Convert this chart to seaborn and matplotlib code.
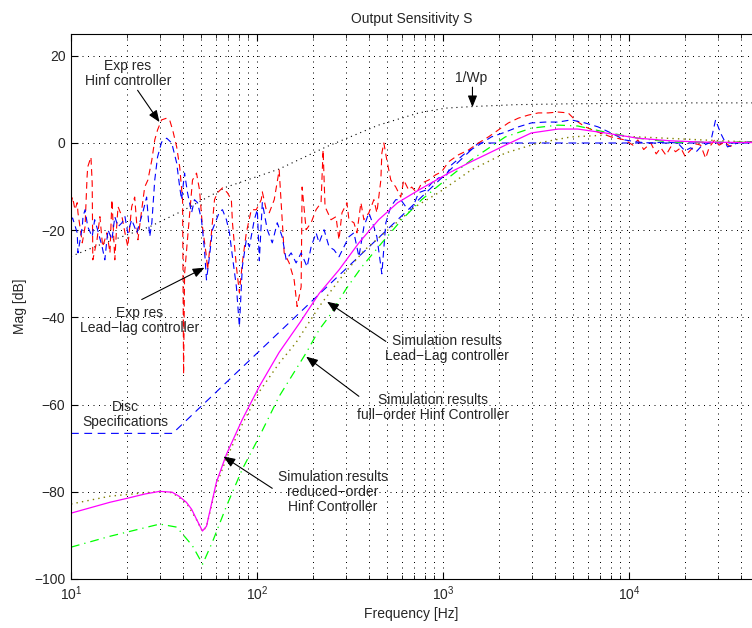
import matplotlib
matplotlib.use("Agg")
import matplotlib.pyplot as plt
import pandas as pd
import seaborn as sns

# Exp res, Hinf controller (red dashed)
hinf_exp_freq = [10.0, 10.2, 10.5, 10.8, 10.9, 11.5, 11.9, 12.2, 12.3, 12.8,
                 13.0, 13.1, 13.8, 14.3, 14.8, 15.6, 16.2, 16.6, 17.2, 17.6,
                 17.9, 18.8, 19.5, 20.2, 21.2, 22.0, 22.9, 24.0, 24.9, 25.9,
                 27.2, 28.2, 29.2, 30.7, 32.7, 33.9, 35.2, 37.0, 38.4, 39.8,
                 40.3, 40.8, 45.0, 47.3, 49.1, 50.9, 53.5, 54.2, 56.9, 59.1,
                 61.3, 65.2, 69.3, 72.8, 73.8, 77.5, 80.4, 83.4, 87.6, 93.2,
                 99.1, 105.4, 106.8, 112.1, 116.4, 123.8, 131.6, 134.9, 140.0, 148.9,
                 158.4, 164.3, 172.7, 174.8, 183.7, 195.4, 207.8, 221.0, 226.6, 232.2,
                 250.0, 265.9, 275.9, 286.3, 304.5, 312.1, 332.0, 344.5, 362.0, 375.6,
                 399.5, 425.0, 441.0, 463.3, 469.1, 480.8, 498.8, 524.0, 557.3, 592.7,
                 615.0, 654.1, 678.7, 722.0, 768.0, 837.3, 912.8, 982.9, 1072, 1212,
                 1371, 1551, 1755, 1986, 2245, 2541, 2874, 3251, 3677, 4161,
                 4708, 5131, 5805, 6814, 8000, 9509, 10500, 11160, 12000, 13100,
                 14000, 14830, 15800, 16760, 17800, 18970, 20000, 21460, 23000, 24280,
                 25820, 27000, 28850, 30500, 32640, 35000, 38310, 43350, 46000]
hinf_exp_db = [-14.0, -12.4, -15.3, -13.7, -16.0, -22.9, -19.2, -7.8, -5.5, -3.2,
               -9.2, -26.8, -22.2, -16.9, -23.8, -20.6, -25.2, -13.0, -26.8, -19.2,
               -14.6, -16.9, -20.6, -23.8, -14.6, -12.4, -22.2, -15.3, -10.1, -8.5,
               -3.9, 0.7, 3.0, 5.3, 5.7, 5.3, 3.0, -0.9, -5.5, -13.0,
               -53.0, -30.0, -8.5, -6.9, -10.8, -19.2, -26.1, -29.1, -20.6, -13.0,
               -11.4, -10.3, -11.4, -13.0, -18.3, -28.4, -34.3, -27.5, -20.6, -15.3,
               -15.3, -13.0, -11.2, -15.3, -16.0, -13.0, -6.2, -13.7, -25.2, -27.5,
               -31.4, -37.5, -33.0, -10.1, -19.9, -18.3, -15.3, -13.7, -1.6, -14.6,
               -17.6, -16.9, -22.2, -16.0, -13.7, -17.6, -18.3, -20.6, -13.7, -17.6,
               -16.0, -13.0, -16.0, -8.5, -2.3, 0.0, -3.9, -8.5, -10.1, -12.4,
               -8.5, -10.8, -10.1, -11.4, -9.2, -8.5, -7.3, -6.6, -4.3, -2.7,
               -1.6, 0.0, 1.4, 3.0, 4.6, 5.7, 6.4, 6.9, 6.9, 7.1,
               6.9, 5.3, 3.7, 2.5, 1.4, 0.7, -0.5, 0.7, -1.5, 0.0,
               -2.5, -1.1, -2.8, -0.9, -2.0, -1.1, -3.0, -1.6, -0.2, -0.5,
               -3.5, -1.0, 0.7, -0.5, 0.2, -0.8, 0.2, 0.2, 0.2]

# Exp res, Lead-lag controller (blue dashed)
leadlag_exp_freq = [10.0, 10.2, 10.8, 10.9, 11.5, 11.6, 11.9, 12.3, 13.0, 13.4,
                    13.9, 14.7, 15.2, 15.8, 16.6, 17.2, 17.9, 18.8, 19.5, 20.2,
                    21.2, 22.6, 23.4, 24.3, 25.5, 26.5, 27.2, 28.2, 29.2, 30.7,
                    32.7, 34.8, 37.0, 38.4, 39.3, 40.8, 42.3, 44.5, 46.1, 47.9,
                    50.3, 52.2, 53.5, 55.5, 57.6, 60.5, 62.8, 65.2, 68.5, 71.1,
                    73.8, 77.5, 80.4, 83.4, 87.6, 91.0, 96.7, 100.4, 102.9, 106.8,
                    113.6, 120.8, 128.5, 136.6, 143.5, 152.6, 162.3, 172.7, 186.0, 195.4,
                    207.8, 215.7, 229.4, 243.9, 259.4, 275.9, 293.5, 312.1, 332.0, 353.1,
                    375.6, 399.5, 425.0, 441.0, 469.1, 492.7, 524.0, 557.3, 592.7, 630.4,
                    678.7, 740.0, 806.8, 868.8, 947.1, 1033, 1112, 1321, 1551, 1821,
                    2164, 2541, 2982, 3544, 4161, 4885, 5805, 6814, 8000, 9509,
                    11160, 13100, 15570, 18280, 20000, 21460, 23000, 24280, 27460, 29210,
                    31060, 33870, 38310, 43350, 46000]
leadlag_exp_db = [-17.6, -17.2, -20.6, -25.2, -19.2, -16.9, -15.3, -19.2, -21.5, -17.6,
                  -19.9, -23.8, -26.8, -19.9, -22.2, -16.9, -19.2, -18.3, -16.9, -20.6,
                  -17.6, -20.6, -18.3, -16.0, -12.4, -21.5, -18.3, -8.5, -3.2, 0.2,
                  1.1, 0.0, -4.6, -10.1, -13.0, -6.9, -11.4, -16.0, -13.0, -13.7,
                  -17.6, -24.5, -31.4, -26.1, -19.9, -17.6, -15.8, -15.3, -17.6, -20.6,
                  -26.1, -33.0, -42.1, -28.4, -22.2, -23.8, -17.6, -15.3, -27.0, -13.7,
                  -19.9, -22.9, -18.3, -21.5, -26.8, -25.2, -27.5, -25.2, -28.4, -23.8,
                  -20.6, -22.9, -19.9, -23.8, -24.5, -26.1, -23.8, -21.5, -20.6, -26.1,
                  -19.2, -16.0, -19.2, -21.5, -30.0, -18.3, -14.6, -13.0, -13.0, -14.6,
                  -15.3, -11.4, -10.8, -9.2, -8.0, -7.8, -5.0, -2.3, -0.5, 1.4,
                  2.5, 3.7, 4.6, 4.8, 4.8, 5.3, 4.6, 3.7, 2.3, 0.7,
                  0.2, 0.0, 0.2, 0.0, -1.8, -1.1, -2.0, -0.9, 0.2, 5.3,
                  2.3, -0.9, 0.0, 0.2, 0.2]

# Disc specifications (blue dashed)
disc_freq = [10, 35.2, 1550, 46000]
disc_db = [-66.6, -66.6, 0.0, 0.0]

# 1/Wp (black dotted)
wp_freq = [10, 15, 26.5, 40, 68.5, 131, 235, 450, 740, 1033, 1500, 2500, 5000, 10000, 20000, 46000]
wp_db = [-26.0, -23.0, -19.2, -15.5, -10.1, -6.0, -0.9, 4.1, 6.9, 8.0, 8.4, 8.8, 9.0, 9.1, 9.2, 9.2]

# Simulation results, Lead-Lag controller (olive dotted)
sim_ll_freq = [10, 16.2, 30, 35, 41.7, 47.3, 50.9, 53.5, 60.5, 68.5,
               83.4, 103, 131.6, 162, 216, 244, 300, 380, 530, 710,
               947, 1416, 2164, 3251, 4885, 7450, 11160, 25000, 46000]
sim_ll_db = [-82.8, -81.0, -79.9, -80.2, -82.5, -86.4, -89.1, -88.0, -78.5, -72.3,
             -64.5, -57.0, -50.5, -45.8, -37.5, -34.5, -29.5, -24.5, -19.2, -14.6,
             -11.4, -6.2, -2.3, 0.0, 1.4, 1.8, 1.4, 0.7, 0.2]

# Simulation results, full-order Hinf controller (green dash-dot)
sim_full_freq = [10, 16.2, 30, 37, 45, 51, 57.6, 68.5, 83.4, 103,
                 131.6, 184, 216, 244, 300, 366, 469, 600, 768, 970,
                 1416, 2164, 2982, 4161, 5300, 7450, 11160, 16760, 46000]
sim_full_db = [-92.7, -90.2, -87.4, -88.1, -92.4, -96.6, -91.5, -83.3, -74.8, -67.3,
               -58.1, -48.1, -42.8, -39.8, -33.6, -28.4, -22.9, -17.6, -13.0, -9.4,
               -3.9, 1.4, 3.4, 4.1, 3.9, 2.5, 1.1, 0.2, 0.2]

# Simulation results, reduced-order Hinf controller (magenta solid)
sim_red_freq = [10, 16.2, 20, 25, 30, 35, 38, 41.7, 44.5, 47.3,
                50.9, 53.5, 60.5, 68.5, 83.4, 103, 131.6, 170, 216, 276,
                353, 451, 570, 740, 947, 1072, 1416, 2164, 2982, 4161,
                5300, 7450, 11160, 16760, 25000, 46000]
sim_red_db = [-84.9, -82.4, -81.5, -80.5, -79.9, -80.1, -81.0, -82.4, -84.0, -86.3,
              -89.0, -87.9, -77.8, -71.4, -63.4, -55.8, -48.0, -41.2, -34.5, -29.1,
              -22.9, -17.6, -13.7, -10.8, -8.2, -6.9, -4.3, -0.5, 2.3, 3.2,
              3.2, 2.3, 1.1, 0.5, 0.2, 0.1]

sns.set_style("ticks")
plt.rcParams['font.family'] = ['Liberation Sans', 'DejaVu Sans']
plt.rcParams['font.size'] = 10

fig = plt.figure(figsize=(7.52, 6.28), dpi=100)
ax = fig.add_axes([71 / 752, 49 / 628, 681 / 752, 545 / 628])
ax.set_xscale('log')


def draw(freq, db, color, ls, lw=0.8):
    df = pd.DataFrame({'Frequency': freq, 'Mag': db})
    sns.lineplot(data=df, x='Frequency', y='Mag', ax=ax, color=color,
                 linestyle=ls, lw=lw, sort=False, estimator=None)


draw(wp_freq, wp_db, 'k', (0, (1, 3.5)), 0.8)
draw(disc_freq, disc_db, '#0000ff', (0, (7, 5)))
draw(hinf_exp_freq, hinf_exp_db, '#ff0000', (0, (6, 4)))
draw(leadlag_exp_freq, leadlag_exp_db, '#0000ff', (0, (6, 4)))
draw(sim_ll_freq, sim_ll_db, '#808000', (0, (1, 3)), 1.0)
draw(sim_full_freq, sim_full_db, '#00ff00', (0, (7, 4, 1, 4)), 0.9)
draw(sim_red_freq, sim_red_db, '#ff00ff', '-', 0.9)

ax.set_xlim(10, 10 ** (1 + 681 / 186.0))
ax.set_ylim(-100, 25)
ax.set_yticks(range(-100, 21, 20))
grid_kw = dict(color='k', ls=(0, (1, 4.5)), lw=0.72)
ax.grid(True, which='major', axis='both', **grid_kw)
ax.grid(True, which='minor', axis='x', **grid_kw)
ax.set_axisbelow(True)
ax.spines['right'].set_visible(False)
for s in ['left', 'top', 'bottom']:
    ax.spines[s].set_linewidth(0.8)
    ax.spines[s].set_color('k')
ax.tick_params(which='both', direction='in', top=True, right=False, color='k')
ax.tick_params(which='major', length=5, width=0.8, pad=4, labelsize=10)
ax.tick_params(which='minor', length=3, width=0.6)

ax.set_title('Output Sensitivity S', fontsize=10, pad=8)
ax.set_xlabel('Frequency [Hz]', fontsize=10, labelpad=3)
ax.set_ylabel('Mag [dB]', fontsize=10, labelpad=5)

arrow = dict(arrowstyle='-|>,head_length=0.5,head_width=0.2', color='k',
             lw=0.8, shrinkA=0, shrinkB=0, mutation_scale=14)


def note(text, pos, tail=None, tip=None):
    ax.text(pos[0], pos[1], text, ha='center', va='center', fontsize=10,
            linespacing=1.1, zorder=10)
    if tail is not None:
        ax.annotate('', xy=tip, xytext=tail, arrowprops=arrow, zorder=10)


note('Exp res\nHinf controller', (20.2, 15.9), (22.8, 12.1), (29.9, 4.8))
note('Exp res\nLead\u2212lag controller', (23.4, -40.7), (24.0, -35.9), (52.2, -28.6))
note('Disc\nSpecifications', (19.5, -62.2))
note('1/Wp', (1416, 14.9), (1440, 12.8), (1440, 8.2))
note('Simulation results\nLead\u2212Lag controller', (1050, -47.1), (492.7, -45.5), (238, -36.4))
note('Simulation results\nfull\u2212order Hinf Controller', (880, -60.6), (353, -58.1), (183.7, -49.0))
note('Simulation results\nreduced\u2212order\nHinf Controller', (256, -80.1), (120.8, -79.2), (66, -71.9))

fig.savefig('out.png', dpi=100)
